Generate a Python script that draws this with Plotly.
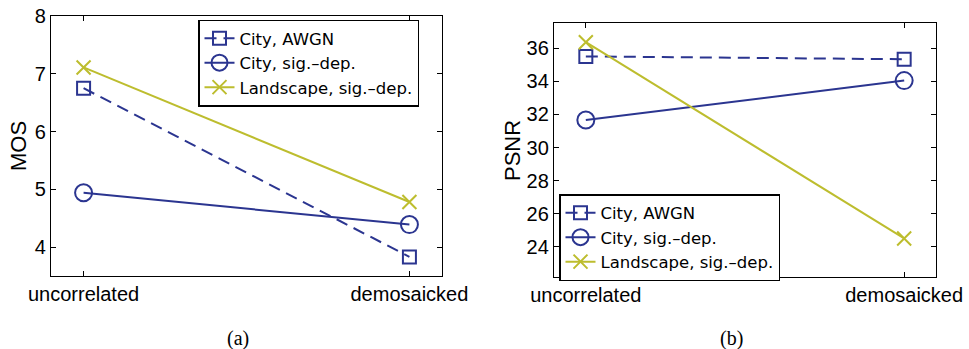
import plotly.graph_objects as go

categories = ["uncorrelated", "demosaicked"]
series_names = ["City, AWGN", "City, sig.–dep.", "Landscape, sig.–dep."]

mos_city_awgn = [6.75, 3.83]
mos_city_sigdep = [4.94, 4.39]
mos_landscape_sigdep = [7.11, 4.78]

psnr_city_awgn = [35.50, 35.33]
psnr_city_sigdep = [31.66, 34.04]
psnr_landscape_sigdep = [36.36, 24.51]

mos_ticks = [4, 5, 6, 7, 8]
psnr_ticks = [24, 26, 28, 30, 32, 34, 36]

BLUE = "#2B3590"
YELLOW = "#BDBD2E"
FONT = "Liberation Sans, Arial, sans-serif"
LEGFONT = "DejaVu Sans, Liberation Sans, sans-serif"

styles = [
    dict(color=BLUE, dash="12px,7px", symbol="square-open", size=13),
    dict(color=BLUE, dash="solid", symbol="circle-open", size=17),
    dict(color=YELLOW, dash="solid", symbol="x-thin-open", size=14),
]

fig = go.Figure()

panels = [
    ([mos_city_awgn, mos_city_sigdep, mos_landscape_sigdep], "x", "y", "legend"),
    ([psnr_city_awgn, psnr_city_sigdep, psnr_landscape_sigdep], "x2", "y2", "legend2"),
]
for data, xa, ya, lg in panels:
    for name, vals, st in zip(series_names, data, styles):
        fig.add_trace(go.Scatter(
            x=categories, y=vals, name=name, mode="lines+markers",
            xaxis=xa, yaxis=ya, legend=lg,
            line=dict(color=st["color"], width=2, dash=st["dash"]),
            marker=dict(symbol=st["symbol"], size=st["size"], color=st["color"],
                        line=dict(color=st["color"], width=2)),
        ))

axis_common = dict(
    showgrid=False, zeroline=False, showline=True, linecolor="black", linewidth=1.3,
    mirror="allticks", ticks="inside", ticklen=5, tickcolor="black", tickwidth=1,
    tickfont=dict(family=FONT, size=20, color="black"), automargin=False,
)

legend_common = dict(
    bgcolor="white", bordercolor="black", borderwidth=1.5,
    font=dict(family=LEGFONT, size=16.5, color="black"),
    xanchor="left", yanchor="top", tracegroupgap=0, itemwidth=30,
)

fig.update_layout(
    width=969, height=349,
    margin=dict(l=0, r=0, t=0, b=0, autoexpand=False),
    paper_bgcolor="white", plot_bgcolor="white",
    showlegend=True,
    xaxis=dict(domain=[51/969, 442/969], anchor="y", type="category",
               range=[-0.1, 1.1], **axis_common),
    yaxis=dict(domain=[(349-276)/349, (349-16)/349], anchor="x",
               range=[3.5, 8], tickvals=mos_ticks, **axis_common),
    xaxis2=dict(domain=[554/969, 936/969], anchor="y2", type="category",
                range=[-0.1, 1.1], **axis_common),
    yaxis2=dict(domain=[(349-276.7)/349, (349-23.3)/349], anchor="x2",
                range=[22.2, 37.5], tickvals=psnr_ticks, **axis_common),
    legend=dict(x=198/969, y=(349-19.5)/349, **legend_common),
    legend2=dict(x=559/969, y=(349-194)/349, **legend_common),
    annotations=[
        dict(text="MOS", x=18/969, y=(349-146)/349, xref="paper", yref="paper",
             textangle=-90, showarrow=False, xanchor="center", yanchor="middle",
             font=dict(family=FONT, size=22, color="black")),
        dict(text="PSNR", x=512/969, y=(349-150)/349, xref="paper", yref="paper",
             textangle=-90, showarrow=False, xanchor="center", yanchor="middle",
             font=dict(family=FONT, size=22, color="black")),
        dict(text="(a)", x=238/969, y=(349-338)/349, xref="paper", yref="paper",
             showarrow=False, xanchor="center", yanchor="middle",
             font=dict(family="Liberation Serif, DejaVu Serif, serif", size=20, color="black")),
        dict(text="(b)", x=731/969, y=(349-338)/349, xref="paper", yref="paper",
             showarrow=False, xanchor="center", yanchor="middle",
             font=dict(family="Liberation Serif, DejaVu Serif, serif", size=20, color="black")),
    ],
)

fig.write_html("out.html")
